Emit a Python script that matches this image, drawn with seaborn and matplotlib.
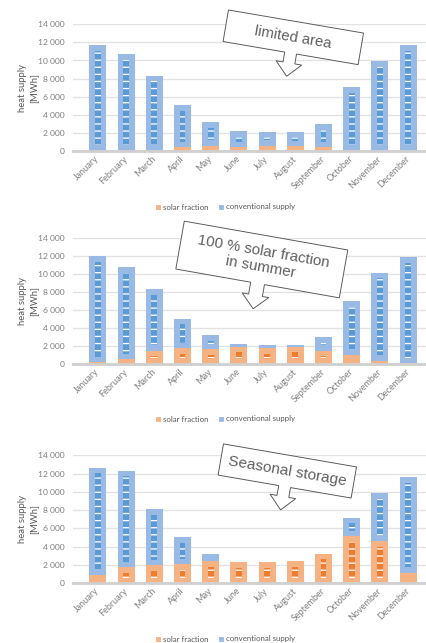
import numpy as np
import pandas as pd
import matplotlib
matplotlib.use("Agg")
import matplotlib.pyplot as plt
from matplotlib.patches import Polygon, Patch
import seaborn as sns

# ---- data (MWh per month) ----
months = ["January", "February", "March", "April", "May", "June", "July",
          "August", "September", "October", "November", "December"]

solar_limited = [30, 60, 150, 440, 590, 440, 590, 550, 400, 80, 30, 20]
conv_limited = [11670, 10640, 8150, 4640, 2610, 1760, 1510, 1550, 2580, 6990, 9920, 11680]

solar_summer = [200, 550, 1480, 1770, 1660, 1920, 1770, 1920, 1480, 1030, 370, 70]
conv_summer = [11770, 10200, 6830, 3220, 1550, 300, 330, 180, 1510, 5950, 9720, 11790]

solar_seasonal = [880, 1750, 1970, 2080, 2410, 2300, 2300, 2410, 3180, 5150, 4600, 1100]
conv_seasonal = [11730, 10530, 6140, 2960, 770, 0, 0, 0, 0, 1980, 5270, 10520]

yticks = list(range(0, 14001, 2000))
legend_labels = ["solar fraction", "conventional supply"]
callout_texts = ["limited area", "100 % solar fraction\nin summer", "Seasonal storage"]

# ---- style ----
DPI = 85
W, H = 426, 643
BLUE_LIGHT, BLUE_DARK = "#99bae5", "#5b9bd5"
ORANGE_LIGHT, ORANGE_DARK = "#f5b283", "#ed7d31"
TICK_GREY, TEXT_GREY = "#808080", "#595959"

sns.set_style("white")
plt.rcParams["font.family"] = ["Lato", "DejaVu Sans"]
plt.rcParams["hatch.color"] = "white"
plt.rcParams["hatch.linewidth"] = 1.1

fig = plt.figure(figsize=(W / DPI, H / DPI), dpi=DPI)


def px_rect(left, top, right, bottom):
    return [left / W, 1 - bottom / H, (right - left) / W, (bottom - top) / H]


def inner_stripes(ax, bottoms, tops, color, inset):
    """Narrow darker stripe with light dashes inside each bar segment."""
    b = np.asarray(bottoms, float) + inset
    t = np.asarray(tops, float) - inset
    h = np.where(t > b, t - b, 0.0)
    ax.bar(np.arange(len(months)), h, bottom=b, width=0.2, color=color,
           edgecolor="white", linewidth=0, hatch="--", zorder=2)


def callout(cx, cy, hw, hh, stem_hw, stem_len, head_hw, tip, angle, text, fs):
    pts = np.array([(-hw, -hh), (hw, -hh), (hw, hh), (stem_hw, hh),
                    (stem_hw, hh + stem_len), (head_hw, hh + stem_len), (0, tip),
                    (-head_hw, hh + stem_len), (-stem_hw, hh + stem_len),
                    (-stem_hw, hh), (-hw, hh)], float)
    a = np.radians(angle)
    xr = pts[:, 0] * np.cos(a) - pts[:, 1] * np.sin(a)
    yr = pts[:, 0] * np.sin(a) + pts[:, 1] * np.cos(a)
    fx = (cx + xr) / W
    fy = 1 - (cy + yr) / H
    poly = Polygon(np.column_stack([fx, fy]), closed=True, transform=fig.transFigure,
                   facecolor="white", edgecolor=TEXT_GREY, linewidth=0.8, zorder=5)
    fig.add_artist(poly)
    fig.text(cx / W, 1 - cy / H, text, rotation=-angle, rotation_mode="anchor",
             ha="center", va="center", fontsize=fs, color="#606060",
             family=["Liberation Sans", "DejaVu Sans"], linespacing=1.15, zorder=6)


panels = [
    dict(solar=solar_limited, conv=conv_limited, top=24.3, bottom=151, legend_y=207,
         box=dict(cx=293.3, cy=37.3, hw=68.5, hh=16, stem_hw=6, stem_len=10,
                  head_hw=13, tip=39.5, angle=9.7, fs=12.7)),
    dict(solar=solar_summer, conv=conv_summer, top=237.7, bottom=364, legend_y=419,
         box=dict(cx=261.8, cy=259.5, hw=83, hh=24.3, stem_hw=7, stem_len=12,
                  head_hw=13.5, tip=50, angle=10, fs=12.8)),
    dict(solar=solar_seasonal, conv=conv_seasonal, top=455.3, bottom=583, legend_y=639,
         box=dict(cx=287.3, cy=471, hw=67.5, hh=15.8, stem_hw=6, stem_len=10,
                  head_hw=13, tip=39.5, angle=9.8, fs=13)),
]

for p, text in zip(panels, callout_texts):
    ax = fig.add_axes(px_rect(73, p["top"], 433, p["bottom"]))
    solar = np.asarray(p["solar"], float)
    total = solar + np.asarray(p["conv"], float)
    df = pd.DataFrame({"month": months, "solar": solar, "total": total})

    sns.barplot(data=df, x="month", y="total", order=months, color=BLUE_LIGHT,
                saturation=1, width=0.6, errorbar=None, linewidth=0, ax=ax, zorder=1)
    sns.barplot(data=df, x="month", y="solar", order=months, color=ORANGE_LIGHT,
                saturation=1, width=0.6, errorbar=None, linewidth=0, ax=ax, zorder=1)

    ax.set_ylim(0, 14000)
    inset = 5.5 * 14000 / (p["bottom"] - p["top"])
    inner_stripes(ax, np.zeros_like(solar), solar, ORANGE_DARK, inset)
    inner_stripes(ax, solar, total, BLUE_DARK, inset)

    ax.set_yticks(yticks)
    ax.set_yticklabels([f"{v:,}".replace(",", " ") for v in yticks])
    ax.set_xticks(range(len(months)))
    ax.set_xticklabels(months, rotation=45, ha="right", va="center",
                       rotation_mode="anchor")
    ax.tick_params(axis="y", length=0, pad=7.4, labelsize=7.2, labelcolor=TICK_GREY)
    ax.tick_params(axis="x", length=0, pad=5.5, labelsize=7.6, labelcolor=TICK_GREY)
    ax.set_xlabel("")
    ax.set_ylabel("heat supply\n[MWh]", fontsize=8, color=TEXT_GREY, linespacing=1.25)
    ax.yaxis.set_label_coords(-0.097, 0.5)

    ax.yaxis.grid(True, color="#e2e2e2", linewidth=1.1)
    ax.set_axisbelow(True)
    for side in ("left", "top", "right"):
        ax.spines[side].set_visible(False)
    ax.spines["bottom"].set_color("#d0d0d0")
    ax.spines["bottom"].set_linewidth(2.4)
    ax.spines["bottom"].set_zorder(3)

    fig.legend(handles=[Patch(facecolor=ORANGE_LIGHT), Patch(facecolor=BLUE_LIGHT)],
               labels=legend_labels, loc="center",
               bbox_to_anchor=(225 / W, 1 - p["legend_y"] / H), ncol=2,
               frameon=False, fontsize=6.7, handlelength=0.75, handleheight=0.75,
               handletextpad=0.3, columnspacing=1.1, labelcolor=TEXT_GREY,
               borderaxespad=0, borderpad=0)

    callout(text=text, **p["box"])

fig.savefig("out.png", dpi=DPI)
